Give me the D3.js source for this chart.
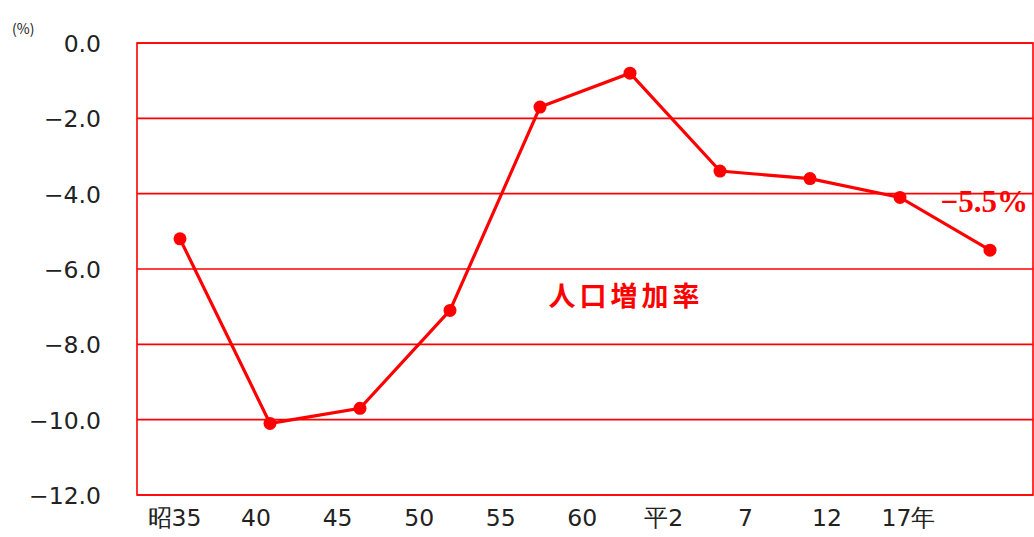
<!DOCTYPE html>
<html>
<head>
<meta charset="utf-8">
<script src="https://cdn.jsdelivr.net/npm/d3@7"></script>
<style>
  body { margin: 0; background: #fff; }
  svg { display: block; font-family: "Noto Sans CJK JP", "DejaVu Sans", sans-serif; }
</style>
</head>
<body>
<svg id="chart" width="1034" height="537"></svg>
<script>
// data
var points = ["p1", "p2", "p3", "p4", "p5", "p6", "p7", "p8", "p9", "p10"];
var rates = [-5.2, -10.1, -9.7, -7.1, -1.7, -0.8, -3.4, -3.6, -4.1, -5.5];
var xLabels = ["昭35", "40", "45", "50", "55", "60", "平2", "7", "12", "17年"];
var yTicks = [0, -2, -4, -6, -8, -10, -12];

var svg = d3.select("#chart"),
    plotL = 137, plotR = 1033, plotT = 43, plotB = 495,
    red = "#ff0000";

var x = d3.scaleBand().domain(points).range([135, 1035]),
    y = d3.scaleLinear().domain([0, -12]).range([plotT, plotB]),
    xl = d3.scalePoint().domain(xLabels).range([174, 908]);

// grid
svg.append("g")
    .selectAll("line")
    .data(yTicks)
    .enter()
    .append("line")
    .attr("x1", plotL).attr("x2", plotR)
    .attr("y1", function (d) { return y(d); })
    .attr("y2", function (d) { return y(d); })
    .attr("stroke", red).attr("stroke-width", 1.6);

svg.append("rect")
    .attr("x", plotL).attr("y", plotT)
    .attr("width", plotR - plotL).attr("height", plotB - plotT)
    .attr("fill", "none").attr("stroke", red).attr("stroke-width", 1.6);

// y axis labels
var yAxis = d3.axisLeft(y).tickValues(yTicks).tickSize(0).tickPadding(0)
    .tickFormat(function (d) { return (d < 0 ? "\u2212" : "") + Math.abs(d).toFixed(1); });
svg.append("g")
    .attr("transform", "translate(101,1)")
    .call(yAxis)
    .call(function (g) { g.select(".domain").remove(); })
    .selectAll("text")
    .attr("font-size", 23.5)
    .attr("font-family", "\"DejaVu Sans\", sans-serif")
    .attr("fill", "#222");

// x axis labels
var xAxis = d3.axisBottom(xl).tickSize(0).tickPadding(0);
svg.append("g")
    .attr("transform", "translate(0,509)")
    .call(xAxis)
    .call(function (g) { g.select(".domain").remove(); })
    .selectAll("text")
    .attr("font-size", 23.5)
    .attr("font-family", "\"DejaVu Sans\", sans-serif")
    .attr("fill", "#222");

svg.append("text")
    .attr("x", 12).attr("y", 34)
    .attr("font-size", 14)
    .attr("fill", "#222")
    .text("(%)");

// line
var line = d3.line()
    .x(function (d, i) { return x(points[i]) + x.bandwidth() / 2; })
    .y(function (d) { return y(d); });

svg.append("path")
    .datum(rates)
    .attr("d", line)
    .attr("fill", "none")
    .attr("stroke", red)
    .attr("stroke-width", 3.2);

svg.append("g")
    .selectAll("circle")
    .data(rates)
    .enter()
    .append("circle")
    .attr("cx", function (d, i) { return x(points[i]) + x.bandwidth() / 2; })
    .attr("cy", function (d) { return y(d); })
    .attr("r", 6.5)
    .attr("fill", red);

// labels
var last = rates.length - 1;
svg.append("text")
    .attr("x", x(points[last]) + x.bandwidth() / 2 + 38)
    .attr("y", y(rates[last]) - 38)
    .attr("text-anchor", "end")
    .attr("font-size", 31)
    .attr("font-weight", "bold")
    .attr("font-family", "\"Liberation Serif\", serif")
    .attr("fill", red)
    .text("\u22125.5%");

svg.append("text")
    .attr("x", 626)
    .attr("y", y(-7) - 1)
    .attr("text-anchor", "middle")
    .attr("font-size", 27)
    .attr("font-weight", "bold")
    .attr("letter-spacing", 4)
    .attr("fill", red)
    .text("人口増加率");
</script>
</body>
</html>
